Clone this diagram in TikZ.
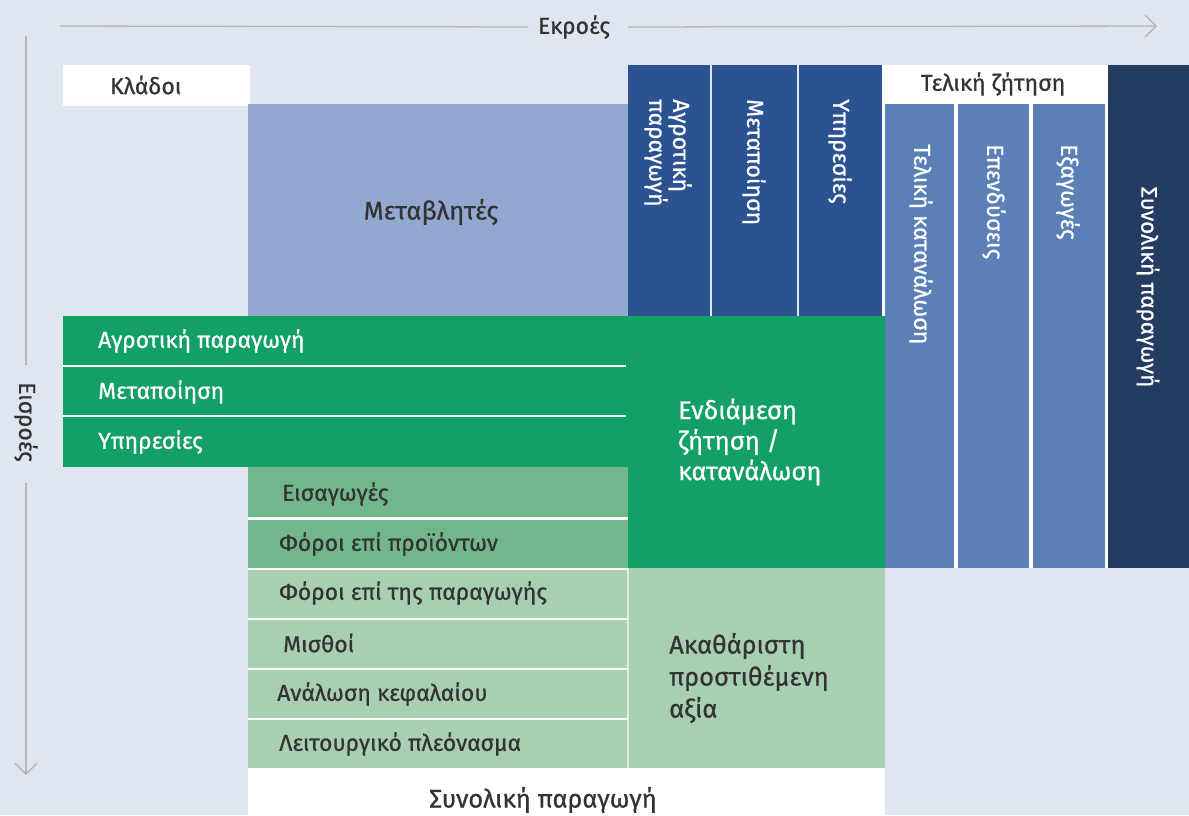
\documentclass[tikz,border=0pt]{standalone}
\usepackage{fontspec}
\setmainfont{Fira Sans}[FakeBold=0.7]
\usetikzlibrary{arrows.meta}
\definecolor{bg}{HTML}{DFE6F0}
\definecolor{lav}{HTML}{93A8D1}
\definecolor{dblue}{HTML}{2C5391}
\definecolor{lblue}{HTML}{5B7FB7}
\definecolor{navy}{HTML}{243B62}
\definecolor{green}{HTML}{13A066}
\definecolor{mgreen}{HTML}{72B78C}
\definecolor{lgreen}{HTML}{A8CFB2}
\definecolor{dtext}{HTML}{333333}
\definecolor{axis}{HTML}{B5B5B5}
\begin{document}
\begin{tikzpicture}[x=1pt,y=-1pt,
  blk/.style={rectangle,inner sep=0pt,outer sep=0pt,anchor=north west,draw=none},
  lbl/.style={font=\fontsize{23}{24}\selectfont,inner sep=0pt},
  big/.style={font=\fontsize{25.5}{30.5}\selectfont,inner sep=0pt},
  axisline/.style={draw=axis,line width=1.3pt},
  sep/.style={draw=white,line width=2.5pt}]
\fill[bg] (0,0) rectangle (1189,815);
\useasboundingbox (0,0) rectangle (1189,815);

% axes
\node[lbl,text=dtext] (ekroes) at (574,27) {Εκροές};
\coordinate (hstart) at (60,26);
\coordinate (hend) at (1157,26);
\draw[axisline] (hstart) -- (ekroes.west -| 528,0);
\draw[axisline,-{Straight Barb[length=11pt,width=22pt]}] (ekroes.east -| 628,0) -- (hend);
\node[lbl,text=dtext,rotate=-90] (eisroes) at (26,422) {Εισροές};
\coordinate (vstart) at (26,36);
\coordinate (vend) at (26,775);
\draw[axisline] (vstart) -- (26,365);
\draw[axisline,-{Straight Barb[length=11pt,width=22pt]}] (26,483) -- (vend);

% header boxes
\node[blk,fill=white,minimum width=187pt,minimum height=41pt] (kladoi) at (63,65) {};
\node[lbl,text=dtext,anchor=west] (tkladoi) at (110,85) {Κλάδοι};
\node[blk,fill=lav,minimum width=380pt,minimum height=212pt] (metav) at (248,104) {};
\node[lbl,text=dtext,font=\fontsize{25.5}{26}\selectfont] (tmetav) at (431,212) {Μεταβλητές};

% output columns (dark blue)
\node[blk,fill=dblue,minimum width=82pt,minimum height=251pt] (c1) at (628,65) {};
\node[blk,fill=dblue,minimum width=85pt,minimum height=251pt] (c2) at (712,65) {};
\node[blk,fill=dblue,minimum width=83pt,minimum height=251pt] (c3) at (799,65) {};
\node[lbl,text=white,rotate=-90,anchor=west,align=left] (tc1) at (668,99) {Αγροτική\\παραγωγή};
\node[lbl,text=white,rotate=-90,anchor=west] (tc2) at (754,99) {Μεταποίηση};
\node[lbl,text=white,rotate=-90,anchor=west] (tc3) at (840,99) {Υπηρεσίες};

% final demand
\node[blk,fill=white,minimum width=226pt,minimum height=503pt] (fd) at (882,65) {};
\node[lbl,text=dtext] (tfd) at (993,84) {Τελική ζήτηση};
\node[blk,fill=lblue,minimum width=69pt,minimum height=464pt] (f1) at (885,104) {};
\node[blk,fill=lblue,minimum width=71pt,minimum height=464pt] (f2) at (958,104) {};
\node[blk,fill=lblue,minimum width=72pt,minimum height=464pt] (f3) at (1033,104) {};
\node[lbl,text=white,rotate=-90,anchor=west] (tf1) at (921,144) {Τελική κατανάλωση};
\node[lbl,text=white,rotate=-90,anchor=west] (tf2) at (994,144) {Επενδύσεις};
\node[lbl,text=white,rotate=-90,anchor=west] (tf3) at (1068,144) {Εξαγωγές};

% total output column
\node[blk,fill=navy,minimum width=81pt,minimum height=503pt] (tot) at (1108,65) {};
\node[lbl,text=white,rotate=-90,font=\fontsize{22.5}{24}\selectfont] (ttot) at (1148,287) {Συνολική παραγωγή};

% green intermediate
\node[blk,fill=green,minimum width=565pt,minimum height=151pt] (rows) at (63,316) {};
\node[blk,fill=green,minimum width=257pt,minimum height=252pt] (inter) at (628,316) {};
\draw[sep] (63,366) -- (626,366);
\draw[sep] (63,416) -- (626,416);
\node[lbl,text=white,anchor=west] (r1) at (98,341) {Αγροτική παραγωγή};
\node[lbl,text=white,anchor=west] (r2) at (98,392) {Μεταποίηση};
\node[lbl,text=white,anchor=west] (r3) at (98,442) {Υπηρεσίες};
\node[big,text=white,anchor=west,align=left] (tinter) at (678,442) {Ενδιάμεση\\ζήτηση /\\κατανάλωση};

% primary inputs
\node[blk,fill=white,minimum width=380pt,minimum height=301pt] (prim) at (248,467) {};
\node[blk,fill=mgreen,minimum width=380pt,minimum height=50pt] (p1) at (248,467) {};
\node[blk,fill=mgreen,minimum width=380pt,minimum height=48pt] (p2) at (248,519.5) {};
\node[blk,fill=lgreen,minimum width=380pt,minimum height=48pt] (p3) at (248,569.5) {};
\node[blk,fill=lgreen,minimum width=380pt,minimum height=48pt] (p4) at (248,619.5) {};
\node[blk,fill=lgreen,minimum width=380pt,minimum height=48pt] (p5) at (248,669.5) {};
\node[blk,fill=lgreen,minimum width=380pt,minimum height=48.5pt] (p6) at (248,719.5) {};
\node[lbl,text=dtext,anchor=west] (tp1) at (282,494) {Εισαγωγές};
\node[lbl,text=dtext,anchor=west] (tp2) at (279,544) {Φόροι επί προϊόντων};
\node[lbl,text=dtext,anchor=west] (tp3) at (279,593) {Φόροι επί της παραγωγής};
\node[lbl,text=dtext,anchor=west] (tp4) at (283,643) {Μισθοί};
\node[lbl,text=dtext,anchor=west] (tp5) at (277,694) {Ανάλωση κεφαλαίου};
\node[lbl,text=dtext,anchor=west] (tp6) at (279,744) {Λειτουργικό πλεόνασμα};

% gross value added
\node[blk,fill=lgreen,minimum width=257pt,minimum height=200pt] (gva) at (628,568) {};
\draw[draw=white,opacity=0.6,line width=1.5pt] (gva.north west) -- (gva.south west);
\node[big,text=dtext,anchor=west,align=left,font=\fontsize{25.5}{32}\selectfont] (tgva) at (669,678) {Ακαθάριστη\\προστιθέμενη\\αξία};

% total output row
\node[blk,fill=white,minimum width=637pt,minimum height=47pt] (totrow) at (248,768) {};
\node[lbl,text=dtext,font=\fontsize{25.5}{26}\selectfont] (ttotrow) at (543,800) {Συνολική παραγωγή};
\end{tikzpicture}
\end{document}
